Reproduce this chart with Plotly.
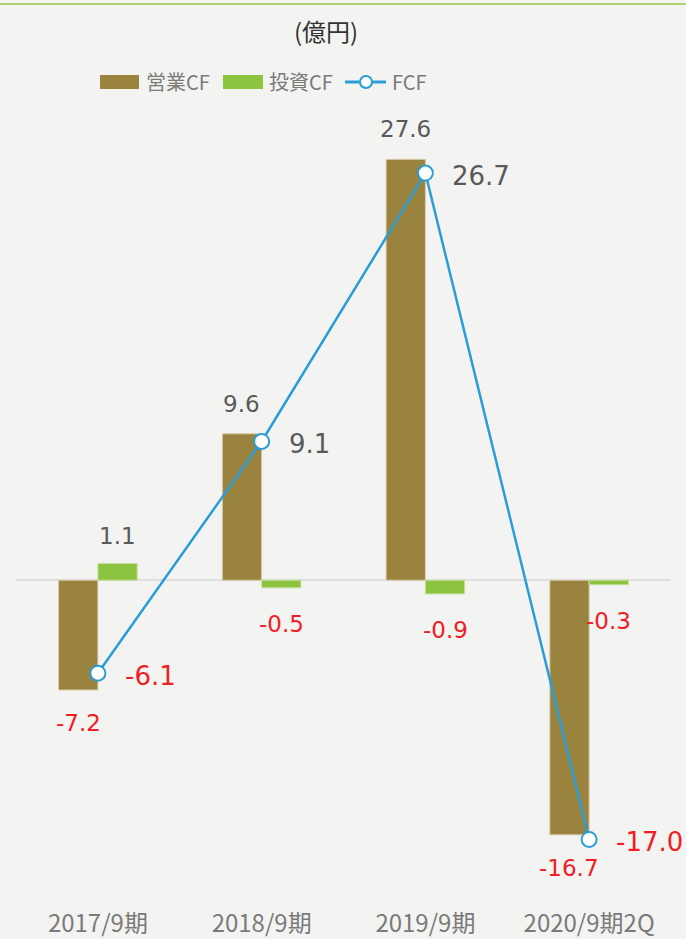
import plotly.graph_objects as go

# Cash flow summary (億円)
periods = ["2017/9期", "2018/9期", "2019/9期", "2020/9期2Q"]
operating_cf = [-7.2, 9.6, 27.6, -16.7]
investing_cf = [1.1, -0.5, -0.9, -0.3]
free_cf = [-6.1, 9.1, 26.7, -17.0]

BROWN = "#9a823f"
GREEN = "#8cc43f"
BLUE = "#2b9dd6"
RED = "#f21c24"
GRAY = "#595959"
BG = "#f3f4f2"
NUM_FONT = "DejaVu Sans, Verdana, sans-serif"
JP_FONT = "Noto Sans CJK JP, sans-serif"

W_PX, H_PX = 686, 939
M_L, M_R, M_T, M_B = 16, 15, 138, 34
PW = W_PX - M_L - M_R
PH = H_PX - M_T - M_B


def px(x):
    return (x - M_L) / PW


def py(y):
    return (H_PX - M_B - y) / PH


fig = go.Figure()
fig.add_trace(go.Bar(
    x=periods, y=operating_cf, name="営業CF",
    marker=dict(color=BROWN, line=dict(color="#d8ccab", width=1)),
    showlegend=False,
))
fig.add_trace(go.Bar(
    x=periods, y=investing_cf, name="投資CF",
    marker=dict(color=GREEN, line=dict(color="#c8e0a4", width=1)),
    showlegend=False,
))
fig.add_trace(go.Scatter(
    x=periods, y=free_cf, name="FCF", mode="lines+markers",
    line=dict(color=BLUE, width=2.5),
    marker=dict(size=15, color="white", line=dict(color=BLUE, width=2)),
    showlegend=False,
))

annotations = []


def value_label(cat, v, xshift, up, down, size):
    annotations.append(dict(
        x=cat, y=v, xref="x", yref="y", text=f"{v:.1f}", showarrow=False,
        xanchor="center", yanchor="middle", xshift=xshift,
        yshift=up if v >= 0 else down,
        font=dict(family=NUM_FONT, size=size, color=GRAY if v >= 0 else RED),
    ))


half = 0.24 * PW / 4 / 2  # half of one bar width in px
for cat, v in zip(periods, operating_cf):
    value_label(cat, v, -half, 30, -33, 23)
for cat, v in zip(periods, investing_cf):
    value_label(cat, v, half, 27, -36, 23)
for cat, v in zip(periods, free_cf):
    annotations.append(dict(
        x=cat, y=v, xref="x", yref="y", text=f"{v:.1f}", showarrow=False,
        xanchor="left", yanchor="middle", xshift=25, yshift=-3,
        font=dict(family=NUM_FONT, size=26, color=GRAY if v >= 0 else RED),
    ))

# unit caption
annotations.append(dict(
    x=px(326), y=py(31), xref="paper", yref="paper", text="(億円)",
    showarrow=False, xanchor="center", yanchor="middle",
    font=dict(family=JP_FONT, size=24, color="#333333"),
))

# legend drawn as swatches + text
shapes = [
    dict(type="line", xref="paper", yref="paper", x0=px(0), x1=px(686),
         y0=py(4), y1=py(4), line=dict(color="#a9d36f", width=2)),
    dict(type="rect", xref="paper", yref="paper", x0=px(100), x1=px(139),
         y0=py(89), y1=py(75), fillcolor=BROWN, line=dict(width=0)),
    dict(type="rect", xref="paper", yref="paper", x0=px(223), x1=px(263),
         y0=py(89), y1=py(75), fillcolor=GREEN, line=dict(width=0)),
    dict(type="line", xref="paper", yref="paper", x0=px(345), x1=px(386),
         y0=py(82), y1=py(82), line=dict(color=BLUE, width=3)),
    dict(type="circle", xref="paper", yref="paper", x0=px(360), x1=px(372),
         y0=py(88), y1=py(76), fillcolor="white", line=dict(color=BLUE, width=2)),
]
for label, x0 in [("営業CF", 144), ("投資CF", 267), ("FCF", 390)]:
    annotations.append(dict(
        x=px(x0), y=py(81), xref="paper", yref="paper", text=label,
        showarrow=False, xanchor="left", yanchor="middle",
        font=dict(family=JP_FONT, size=20, color="#7a7a7a"),
    ))

fig.update_layout(
    width=W_PX, height=H_PX,
    margin=dict(l=M_L, r=M_R, t=M_T, b=M_B, pad=0, autoexpand=False),
    paper_bgcolor=BG, plot_bgcolor=BG,
    barmode="group", bargap=0.52, bargroupgap=0,
    showlegend=False,
    annotations=annotations, shapes=shapes,
    xaxis=dict(
        type="category", range=[-0.5, 3.5], showgrid=False, showline=False,
        ticks="", automargin=False, ticklabelstandoff=2,
        tickfont=dict(family=JP_FONT, size=24, color="#7a7a7a"),
    ),
    yaxis=dict(
        range=[-21.3, 29], showgrid=False, showticklabels=False, ticks="",
        automargin=False,
        zeroline=True, zerolinecolor="#dedede", zerolinewidth=2,
    ),
)

fig.write_html("out.html")
